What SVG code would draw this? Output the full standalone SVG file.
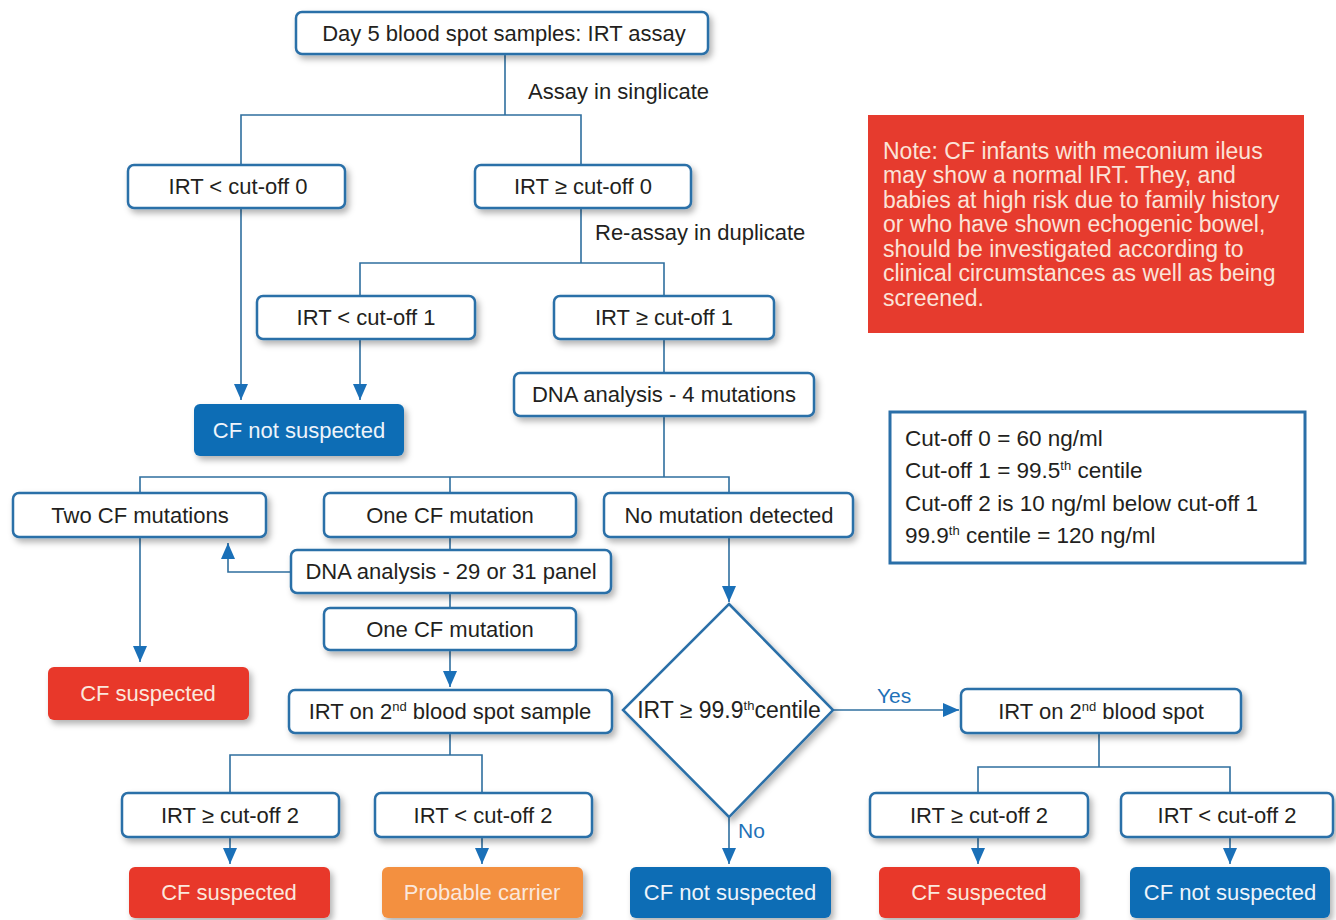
<svg xmlns="http://www.w3.org/2000/svg" width="1336" height="920" viewBox="0 0 1336 920">
<style>
.bx{fill:#fff;stroke:#2a6fa8;stroke-width:2.5}
.fb{stroke:none}
.blue{fill:#0f6db5}
.red{fill:#e8392b}
.orange{fill:#f39040}
.t{font-family:"Liberation Sans",Arial,sans-serif;font-size:22px;fill:#231f20;text-anchor:middle}
.tw{font-family:"Liberation Sans",Arial,sans-serif;font-size:22px;fill:#eef4fb;text-anchor:middle}
.tr{font-family:"Liberation Sans",Arial,sans-serif;font-size:22px;fill:#fbe7dc;text-anchor:middle}
.lbl{font-family:"Liberation Sans",Arial,sans-serif;font-size:22px;fill:#231f20}
.yn{font-family:"Liberation Sans",Arial,sans-serif;font-size:21px;fill:#1f72b8}
.note{font-family:"Liberation Sans",Arial,sans-serif;font-size:23px;fill:#fbe3d8}
.leg{font-family:"Liberation Sans",Arial,sans-serif;font-size:22.5px;fill:#231f20}
.ln{fill:none;stroke:#2f6f9f;stroke-width:1.6}
.sup{font-size:13px}
</style>
<defs>
<filter id="sh" x="-10%" y="-20%" width="130%" height="160%">
<feDropShadow dx="3" dy="4" stdDeviation="3" flood-color="#000" flood-opacity="0.3"/>
</filter>
<marker id="ar" markerUnits="userSpaceOnUse" markerWidth="16" markerHeight="14" refX="16" refY="7" orient="auto">
<path d="M0 0 L16 7 L0 14 z" fill="#1a70b8"/>
</marker>
</defs>
<rect width="1336" height="920" fill="#fff"/>

<g id="connectors">
<path class="ln" d="M505 54 V115 M241 165 V115 H581 V165"/>
<path class="ln" d="M241 208 V400" marker-end="url(#ar)"/>
<path class="ln" d="M581 208 V263 M360 296 V263 H664 V296"/>
<path class="ln" d="M360 339 V400" marker-end="url(#ar)"/>
<path class="ln" d="M664 339 V373"/>
<path class="ln" d="M664 416 V477 M140 493 V477 H729 V493 M450 477 V493"/>
<path class="ln" d="M140 537 V662" marker-end="url(#ar)"/>
<path class="ln" d="M450 537 V550 M450 593 V608"/>
<path class="ln" d="M291 572 H228 V543" marker-end="url(#ar)"/>
<path class="ln" d="M450 650 V687" marker-end="url(#ar)"/>
<path class="ln" d="M450 733 V755 M230 793 V755 H482 V793"/>
<path class="ln" d="M230 837 V864" marker-end="url(#ar)"/>
<path class="ln" d="M482 837 V864" marker-end="url(#ar)"/>
<path class="ln" d="M729 537 V602" marker-end="url(#ar)"/>
<path class="ln" d="M833 710 H959" marker-end="url(#ar)"/>
<path class="ln" d="M729 817 V864" marker-end="url(#ar)"/>
<path class="ln" d="M1099 733 V767 M978 793 V767 H1230 V793"/>
<path class="ln" d="M978 837 V864" marker-end="url(#ar)"/>
<path class="ln" d="M1230 837 V864" marker-end="url(#ar)"/>
<text class="lbl" x="528" y="99">Assay in singlicate</text>
<text class="lbl" x="595" y="240">Re-assay in duplicate</text>
<text class="yn" x="877" y="703">Yes</text>
<text class="yn" x="738" y="838">No</text>
</g>

<g id="n_top"><rect class="bx" filter="url(#sh)" x="296" y="12" width="412" height="42" rx="6"/><text class="t" x="504" y="41">Day 5 blood spot samples: IRT assay</text></g>
<g id="n_lt0"><rect class="bx" filter="url(#sh)" x="128" y="165" width="217" height="43" rx="6"/><text class="t" x="238" y="194">IRT &lt; cut-off 0</text></g>
<g id="n_ge0"><rect class="bx" filter="url(#sh)" x="475" y="165" width="216" height="43" rx="6"/><text class="t" x="583" y="194">IRT ≥ cut-off 0</text></g>
<g id="n_lt1"><rect class="bx" filter="url(#sh)" x="257" y="296" width="218" height="43" rx="6"/><text class="t" x="366" y="325">IRT &lt; cut-off 1</text></g>
<g id="n_ge1"><rect class="bx" filter="url(#sh)" x="554" y="296" width="220" height="43" rx="6"/><text class="t" x="664" y="325">IRT ≥ cut-off 1</text></g>
<g id="n_dna4"><rect class="bx" filter="url(#sh)" x="514" y="373" width="300" height="43" rx="6"/><text class="t" x="664" y="402">DNA analysis - 4 mutations</text></g>
<g id="n_cfns1"><rect class="fb blue" filter="url(#sh)" x="194" y="404" width="210" height="52" rx="6"/><text class="tw" x="299" y="438">CF not suspected</text></g>

<g id="n_two"><rect class="bx" filter="url(#sh)" x="13" y="493" width="253" height="44" rx="6"/><text class="t" x="140" y="523">Two CF mutations</text></g>
<g id="n_one1"><rect class="bx" filter="url(#sh)" x="324" y="493" width="252" height="44" rx="6"/><text class="t" x="450" y="523">One CF mutation</text></g>
<g id="n_nomut"><rect class="bx" filter="url(#sh)" x="604" y="493" width="249" height="44" rx="6"/><text class="t" x="729" y="523">No mutation detected</text></g>
<g id="n_dna29"><rect class="bx" filter="url(#sh)" x="291" y="550" width="320" height="43" rx="6"/><text class="t" x="451" y="579">DNA analysis - 29 or 31 panel</text></g>
<g id="n_one2"><rect class="bx" filter="url(#sh)" x="324" y="608" width="252" height="42" rx="6"/><text class="t" x="450" y="637">One CF mutation</text></g>
<g id="n_cfs1"><rect class="fb red" filter="url(#sh)" x="48" y="667" width="201" height="53" rx="6"/><text class="tr" x="148" y="701">CF suspected</text></g>
<g id="n_irt2s"><rect class="bx" filter="url(#sh)" x="289" y="690" width="323" height="43" rx="6"/><text class="t" x="450" y="719">IRT on 2<tspan class="sup" dy="-8">nd</tspan><tspan dy="8"> blood spot sample</tspan></text></g>
<g id="n_dia"><polygon class="bx" filter="url(#sh)" points="729,604 833,710 729,817 623,710"/><text class="t" x="729" y="718" style="font-size:23px">IRT ≥ 99.9<tspan class="sup" dy="-8">th</tspan><tspan dy="8">centile</tspan></text></g>
<g id="n_irt2b"><rect class="bx" filter="url(#sh)" x="961" y="689" width="280" height="44" rx="6"/><text class="t" x="1101" y="719">IRT on 2<tspan class="sup" dy="-8">nd</tspan><tspan dy="8"> blood spot</tspan></text></g>

<g id="n_ge2a"><rect class="bx" filter="url(#sh)" x="122" y="793" width="217" height="44" rx="6"/><text class="t" x="230" y="823">IRT ≥ cut-off 2</text></g>
<g id="n_lt2a"><rect class="bx" filter="url(#sh)" x="375" y="793" width="217" height="44" rx="6"/><text class="t" x="483" y="823">IRT &lt; cut-off 2</text></g>
<g id="n_ge2b"><rect class="bx" filter="url(#sh)" x="870" y="793" width="218" height="44" rx="6"/><text class="t" x="979" y="823">IRT ≥ cut-off 2</text></g>
<g id="n_lt2b"><rect class="bx" filter="url(#sh)" x="1121" y="793" width="212" height="44" rx="6"/><text class="t" x="1227" y="823">IRT &lt; cut-off 2</text></g>
<g id="n_cfs2"><rect class="fb red" filter="url(#sh)" x="129" y="867" width="201" height="51" rx="6"/><text class="tr" x="229" y="900">CF suspected</text></g>
<g id="n_carrier"><rect class="fb orange" filter="url(#sh)" x="382" y="867" width="201" height="51" rx="6"/><text class="tr" x="482" y="900">Probable carrier</text></g>
<g id="n_cfns2"><rect class="fb blue" filter="url(#sh)" x="630" y="867" width="201" height="51" rx="6"/><text class="tw" x="730" y="900">CF not suspected</text></g>
<g id="n_cfs3"><rect class="fb red" filter="url(#sh)" x="879" y="867" width="201" height="51" rx="6"/><text class="tr" x="979" y="900">CF suspected</text></g>
<g id="n_cfns3"><rect class="fb blue" filter="url(#sh)" x="1130" y="867" width="200" height="51" rx="6"/><text class="tw" x="1230" y="900">CF not suspected</text></g>

<g id="note">
<rect x="868" y="115" width="436" height="218" fill="#e63b2e"/>
<text class="note" x="883" y="159">Note: CF infants with meconium ileus</text>
<text class="note" x="883" y="183">may show a normal IRT.  They, and</text>
<text class="note" x="883" y="208">babies at high risk due to family history</text>
<text class="note" x="883" y="232">or who have shown echogenic bowel,</text>
<text class="note" x="883" y="257">should be investigated according to</text>
<text class="note" x="883" y="281">clinical circumstances as well as being</text>
<text class="note" x="883" y="306">screened.</text>
</g>

<g id="legend">
<rect x="890" y="412" width="415" height="151" fill="#fff" stroke="#2a6fa8" stroke-width="3"/>
<text class="leg" x="905" y="446">Cut-off 0 = 60 ng/ml</text>
<text class="leg" x="905" y="478">Cut-off 1 = 99.5<tspan class="sup" dy="-8">th</tspan><tspan dy="8"> centile</tspan></text>
<text class="leg" x="905" y="511">Cut-off 2 is 10 ng/ml below cut-off 1</text>
<text class="leg" x="905" y="543">99.9<tspan class="sup" dy="-8">th</tspan><tspan dy="8"> centile = 120 ng/ml</tspan></text>
</g>
</svg>
